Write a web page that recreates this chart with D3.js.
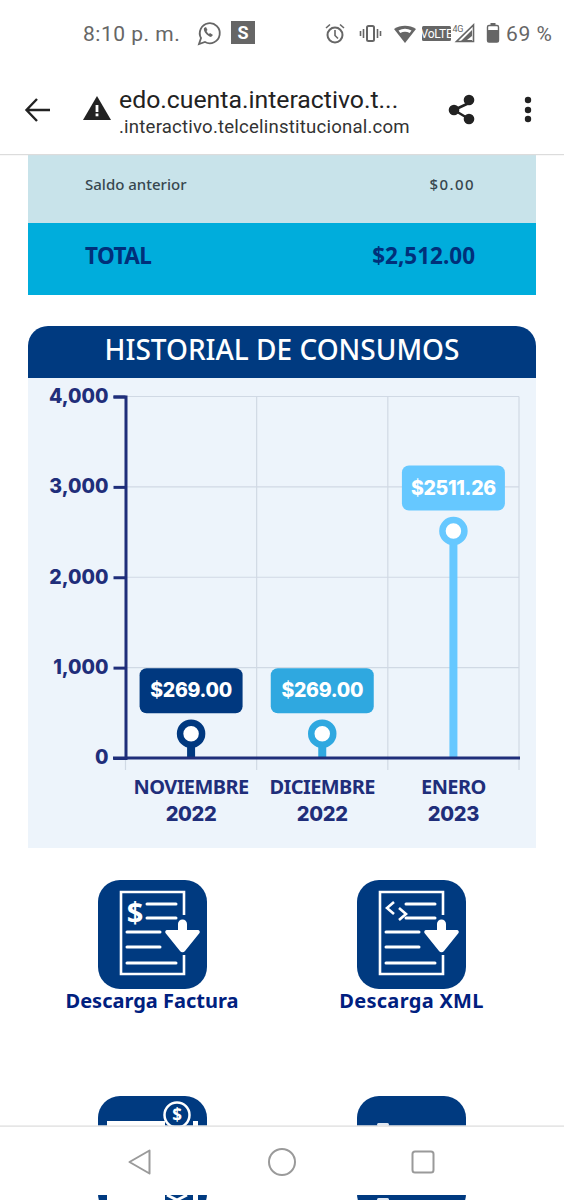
<!DOCTYPE html>
<html><head><meta charset="utf-8">
<script src="https://cdn.jsdelivr.net/npm/d3@7/dist/d3.min.js"></script>
<style>html,body{margin:0;padding:0;background:#fff}svg{display:block}</style>
</head><body><svg id="c" width="564" height="1200" viewBox="0 0 564 1200"></svg>
<script>
const months=["NOVIEMBRE","DICIEMBRE","ENERO"];
const years=["2022","2022","2023"];
const values=[269,269,2511.26];
const valueLabels=["$269.00","$269.00","$2511.26"];
const barColors=["#00387f","#2fa8e0","#66c8ff"];
const yTicks=[0,1000,2000,3000,4000];

const svg=d3.select("#c");
const NAVY="#1f2e7a";
const BODY="'Noto Sans',sans-serif", ROB="Roboto,sans-serif", HEAVY="Inter,sans-serif";
function txt(p,s,x,y,o={}){return p.append("text").text(s).attr("x",x).attr("y",y)
  .attr("font-family",o.f||BODY).attr("font-size",o.s||14).attr("font-weight",o.w||400)
  .attr("fill",o.c||"#333").attr("text-anchor",o.a||"start").attr("letter-spacing",o.ls||null);}

svg.append("rect").attr("width",564).attr("height",1200).attr("fill","#fff");

// summary rows
svg.append("rect").attr("x",28).attr("y",155).attr("width",508).attr("height",68).attr("fill","#c8e3ea");
svg.append("rect").attr("x",28).attr("y",223).attr("width",508).attr("height",72).attr("fill","#00addc");
txt(svg,"Saldo anterior",85,190,{s:15,w:500,c:"#37474f"});
txt(svg,"$0.00",475,190,{s:15,w:500,c:"#37474f",a:"end",ls:1.4});
txt(svg,"TOTAL",85,264,{s:22.5,w:700,c:"#00307a",ls:-0.6});
txt(svg,"$2,512.00",475,264,{s:22.5,w:700,c:"#00307a",a:"end"});

// chart card
svg.append("rect").attr("x",28).attr("y",378).attr("width",508).attr("height",470).attr("fill","#edf4fb");
svg.append("path").attr("fill","#003a80").attr("d","M28 378V346a20 20 0 0 1 20-20H516a20 20 0 0 1 20 20V378Z");
txt(svg,"HISTORIAL DE CONSUMOS",282,360,{s:28,w:500,c:"#fff",a:"middle"});

const y=d3.scaleLinear().domain([0,4000]).range([758,396.5]);
const x=d3.scaleBand().domain(d3.range(months.length)).range([125.5,519]);

// grid
const grid=svg.append("g").attr("stroke","#d0d9e4").attr("stroke-width",1.2);
grid.selectAll("line.h").data(yTicks.slice(1)).join("line").attr("class","h")
  .attr("x1",x.range()[0]).attr("x2",x.range()[1]).attr("y1",d=>y(d)).attr("y2",d=>y(d));
const edges=[...months.keys()].map(i=>x(i)).concat(x.range()[1]);
grid.selectAll("line.v").data(edges).join("line").attr("class","v")
  .attr("x1",d=>d).attr("x2",d=>d).attr("y1",y(4000)).attr("y2",770);

// y axis
const yAxis=svg.append("g").attr("transform",`translate(${x.range()[0]},0)`)
  .call(d3.axisLeft(y).tickValues(yTicks).tickFormat(d3.format(",")).tickSize(12).tickPadding(5));
yAxis.select(".domain").attr("stroke",NAVY).attr("stroke-width",3);
yAxis.selectAll(".tick line").attr("stroke",NAVY).attr("stroke-width",3);
yAxis.selectAll(".tick text").attr("fill",NAVY).attr("font-family",HEAVY).attr("font-size",19.5).attr("font-weight",800).attr("dy","0.3em");

// marks
const bw=8;
const g=svg.append("g");
values.forEach((v,i)=>{
  const cx=x(i)+x.bandwidth()/2, cy=y(v);
  g.append("rect").attr("x",cx-bw/2).attr("width",bw).attr("y",cy).attr("height",y(0)-cy).attr("fill",barColors[i]);
  g.append("circle").attr("cx",cx).attr("cy",cy).attr("r",11).attr("fill","#fff").attr("stroke",barColors[i]).attr("stroke-width",6.5);
  g.append("rect").attr("x",cx-51.5).attr("width",103).attr("y",cy-65.5).attr("height",45).attr("rx",7).attr("fill",barColors[i]);
  txt(g,valueLabels[i],cx,cy-36.5,{f:HEAVY,s:19.5,w:800,c:"#fff",a:"middle",ls:-0.3});
});

// x axis
svg.append("line").attr("x1",113).attr("x2",520).attr("y1",y(0)).attr("y2",y(0)).attr("stroke",NAVY).attr("stroke-width",3);
months.forEach((m,i)=>{
  const cx=x(i)+x.bandwidth()/2;
  txt(svg,m,cx,794,{s:20,w:700,c:NAVY,a:"middle",ls:-0.6});
  txt(svg,years[i],cx,821,{f:HEAVY,s:20,w:800,c:NAVY,a:"middle",ls:-0.3});
});

// action icons
function docIcon(ox,oy,kind){
  const p=svg.append("g").attr("transform",`translate(${ox},${oy})`);
  p.append("rect").attr("width",109).attr("height",109).attr("rx",22).attr("fill","#003a80");
  p.append("path").attr("d","M86 35V12H23V94H86V75").attr("fill","none").attr("stroke","#fff").attr("stroke-width",2.6);
  [[49,78,24],[49,78,38],[29,62,52],[29,62,67],[29,78,83]].forEach(l=>
    p.append("line").attr("x1",l[0]).attr("x2",l[1]).attr("y1",l[2]).attr("y2",l[2]).attr("stroke","#fff").attr("stroke-width",3).attr("stroke-linecap","round"));
  p.append("path").attr("d","M80 44a4.5 4.5 0 0 1 9 0V50H100a2 2 0 0 1 1.5 3L87 71a3 3 0 0 1-5 0L67.5 53a2 2 0 0 1 1.5-3H80Z").attr("fill","#fff");
  if(kind==="$") txt(p,"$",37,43,{s:29,w:700,c:"#fff",a:"middle"});
  else p.append("path").attr("d","M37 22L30 28L37 34M42 28L49 34L42 40").attr("fill","none").attr("stroke","#fff").attr("stroke-width",2.6);
}
docIcon(98,880,"$");
docIcon(357,880,"x");
txt(svg,"Descarga Factura",152,1008,{s:20,w:700,c:"#00207f",a:"middle"});
txt(svg,"Descarga XML",411.5,1008,{s:20,w:700,c:"#00207f",a:"middle",ls:0.3});

// next row of icons, partly hidden
[98,357].forEach(ox=>svg.append("rect").attr("x",ox).attr("y",1096).attr("width",109).attr("height",120).attr("rx",22).attr("fill","#003a80"));
svg.append("rect").attr("x",107).attr("y",1121).attr("width",58).attr("height",90).attr("fill","#fff");
svg.append("rect").attr("x",193).attr("y",1121).attr("width",5).attr("height",90).attr("fill","#fff");
svg.append("circle").attr("cx",177).attr("cy",1115).attr("r",12.5).attr("fill","#003a80").attr("stroke","#fff").attr("stroke-width",2.5);
txt(svg,"$",177,1121,{s:17,w:700,c:"#fff",a:"middle"});
svg.append("path").attr("d","M167 1195l10 5l10-5").attr("fill","none").attr("stroke","#fff").attr("stroke-width",3);
svg.append("rect").attr("x",377).attr("y",1123).attr("width",12).attr("height",3).attr("rx",1.5).attr("fill","#dfe7f2");
svg.append("rect").attr("x",377).attr("y",1198).attr("width",12).attr("height",3).attr("rx",1.5).attr("fill","#dfe7f2");

// top bars
svg.append("rect").attr("width",564).attr("height",154).attr("fill","#fff");
svg.append("rect").attr("y",154).attr("width",564).attr("height",1.2).attr("fill","#dcdcdc");
const GR="#666";
txt(svg,"8:10 p. m.",83,41,{f:ROB,s:21,c:GR,ls:0.5});
txt(svg,"69 %",506,41,{f:ROB,s:21,c:GR,ls:0.6});
// whatsapp
svg.append("path").attr("d","M199 44l2-6a10 10 0 1 1 4 4Z").attr("fill","none").attr("stroke",GR).attr("stroke-width",1.8);
svg.append("path").attr("d","M204 28c-1 3 3 8 7 9l2-2l-3-2l-1 1c-1-.5-2-2-2.5-3l1-1l-1.5-3Z").attr("fill",GR);
svg.append("rect").attr("x",231).attr("y",21).attr("width",24).attr("height",23).attr("fill",GR);
txt(svg,"S",243,39,{f:ROB,s:18,w:700,c:"#fff",a:"middle"});
// alarm
svg.append("circle").attr("cx",335).attr("cy",35).attr("r",7.5).attr("fill","none").attr("stroke",GR).attr("stroke-width",2);
svg.append("path").attr("d","M335 30v5.5l3 3M326 28l4-3.5M344 28l-4-3.5").attr("fill","none").attr("stroke",GR).attr("stroke-width",1.6);
// vibrate
svg.append("rect").attr("x",367).attr("y",26).attr("width",7).attr("height",15).attr("rx",1.5).attr("fill","none").attr("stroke",GR).attr("stroke-width",2);
svg.append("path").attr("d","M363.5 29v9M360.5 31v5M377.5 29v9M380.5 31v5").attr("stroke",GR).attr("stroke-width",1.6);
// wifi
svg.append("path").attr("d","M394 29a20 20 0 0 1 22 0l-11 14Z").attr("fill",GR);
svg.append("path").attr("d","M398.5 30.5a14 14 0 0 1 13 0l-1.8 2.5a10 10 0 0 0-9.4 0Z").attr("fill","#fff");
// volte
svg.append("rect").attr("x",422).attr("y",26).attr("width",29).attr("height",15).attr("rx",1.5).attr("fill",GR);
txt(svg,"VoLTE",436.5,38,{f:"'Liberation Sans Narrow',Roboto,sans-serif",s:12,c:"#fff",a:"middle",ls:-0.2});
txt(svg,"4G",452.5,31.5,{f:ROB,s:9,c:GR,ls:-0.2});
svg.append("path").attr("d","M473.5 25V41.5H456.5Z").attr("fill","none").attr("stroke",GR).attr("stroke-width",1.6);
svg.append("path").attr("d","M472 30V41H461Z").attr("fill",GR);
svg.append("path").attr("d","M472 36V40H467Z").attr("fill","#fff");
// battery
svg.append("rect").attr("x",487.5).attr("y",25.5).attr("width",11).attr("height",16.5).attr("rx",1.5).attr("fill","#fff").attr("stroke",GR).attr("stroke-width",1.4);
svg.append("rect").attr("x",487.5).attr("y",30).attr("width",11).attr("height",12).attr("rx",1).attr("fill",GR);
svg.append("rect").attr("x",490.5).attr("y",23).attr("width",5).attr("height",3).attr("fill",GR);

// url bar
svg.append("path").attr("d","M50 110H27M37 99L26.5 110L37 121").attr("fill","none").attr("stroke","#222").attr("stroke-width",2.4);
svg.append("path").attr("d","M97 96L111 120H83Z").attr("fill","#222");
svg.append("rect").attr("x",95.6).attr("y",105).attr("width",2.8).attr("height",7).attr("fill","#fff");
svg.append("rect").attr("x",95.6).attr("y",113.5).attr("width",2.8).attr("height",2.8).attr("fill","#fff");
txt(svg,"edo.cuenta.interactivo.t...",119,108,{f:ROB,s:24.8,c:"#222"});
txt(svg,".interactivo.telcelinstitucional.com",119,133,{f:ROB,s:18.6,c:"#333",ls:0.2});
svg.append("path").attr("d","M469 103L454 110L469 119").attr("fill","none").attr("stroke","#222").attr("stroke-width",2.5);
[[469,100],[454,110],[469,119]].forEach(d=>svg.append("circle").attr("cx",d[0]).attr("cy",d[1]).attr("r",5.3).attr("fill","#222"));
[100,110,119].forEach(cy=>svg.append("circle").attr("cx",528).attr("cy",cy).attr("r",3.2).attr("fill","#222"));

// nav bar
svg.append("rect").attr("y",1125.5).attr("width",564).attr("height",69.5).attr("fill","#fff");
svg.append("rect").attr("y",1125.5).attr("width",564).attr("height",1.2).attr("fill","#dcdcdc");
const ND="#9a9a9a";
svg.append("path").attr("d","M149.5 1150.5L129.5 1162L149.5 1173.5Z").attr("fill","none").attr("stroke",ND).attr("stroke-width",2).attr("stroke-linejoin","round");
svg.append("circle").attr("cx",282).attr("cy",1162).attr("r",13).attr("fill","none").attr("stroke",ND).attr("stroke-width",2);
svg.append("rect").attr("x",412.5).attr("y",1151.5).attr("width",21).attr("height",21).attr("rx",2.5).attr("fill","none").attr("stroke",ND).attr("stroke-width",2);
</script></body></html>
